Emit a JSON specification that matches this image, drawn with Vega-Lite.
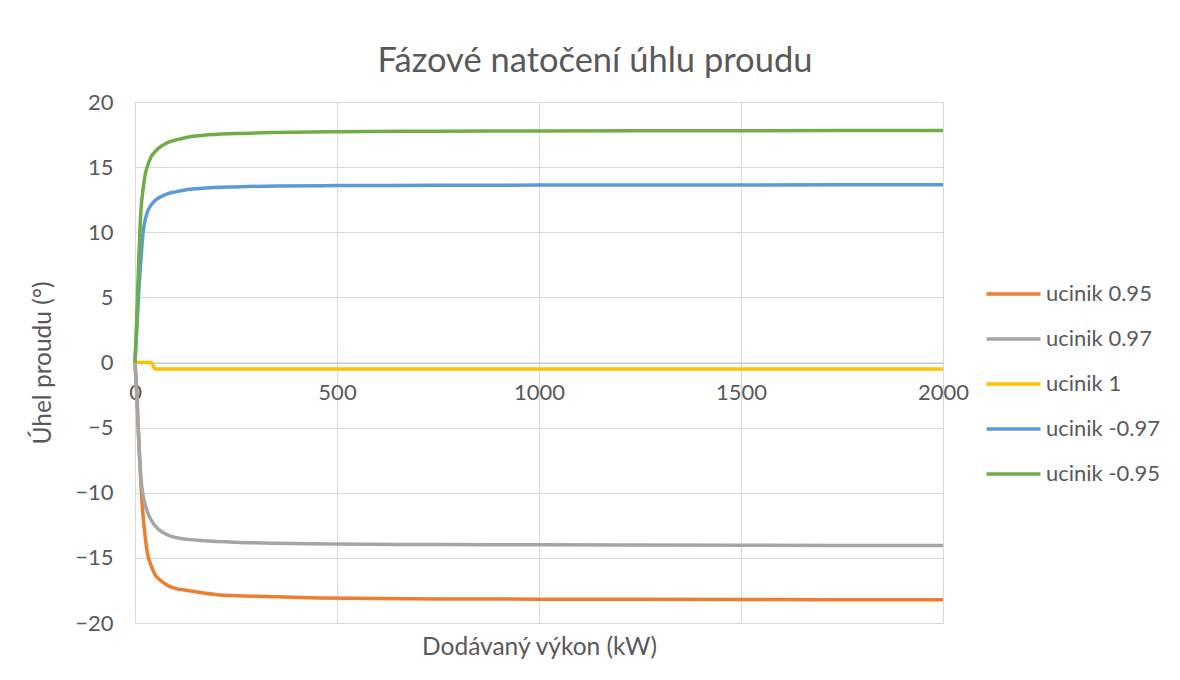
{
  "$schema": "https://vega.github.io/schema/vega-lite/v6.json",
  "width": 808,
  "height": 521,
  "autosize": {"type": "none"},
  "padding": {"left": 135, "top": 102, "right": 237, "bottom": 57},
  "background": "white",
  "config": {
    "font": "Lato",
    "view": {"stroke": null},
    "axis": {"labelFont": "Lato", "titleFont": "Lato", "labelColor": "#595959", "titleColor": "#595959", "titleFontWeight": "normal", "gridColor": "#D9D9D9", "gridWidth": 1},
    "legend": {"labelFont": "Lato", "labelColor": "#595959"}
  },
  "title": {"text": "Fázové natočení úhlu proudu", "font": "Lato", "fontSize": 34.5, "fontWeight": "normal", "color": "#595959", "anchor": "middle", "dx": 56, "offset": 12},
  "data": {"values": [
    {"series": "ucinik 0.95", "P": 0, "angle": 0},
    {"series": "ucinik 0.95", "P": 5, "angle": -2.5},
    {"series": "ucinik 0.95", "P": 10, "angle": -6.5},
    {"series": "ucinik 0.95", "P": 15, "angle": -9.5},
    {"series": "ucinik 0.95", "P": 20, "angle": -11.8},
    {"series": "ucinik 0.95", "P": 25, "angle": -13.3},
    {"series": "ucinik 0.95", "P": 30, "angle": -14.5},
    {"series": "ucinik 0.95", "P": 40, "angle": -15.6},
    {"series": "ucinik 0.95", "P": 50, "angle": -16.3},
    {"series": "ucinik 0.95", "P": 60, "angle": -16.65},
    {"series": "ucinik 0.95", "P": 75, "angle": -17.0},
    {"series": "ucinik 0.95", "P": 90, "angle": -17.25},
    {"series": "ucinik 0.95", "P": 110, "angle": -17.42},
    {"series": "ucinik 0.95", "P": 130, "angle": -17.5},
    {"series": "ucinik 0.95", "P": 170, "angle": -17.7},
    {"series": "ucinik 0.95", "P": 210, "angle": -17.85},
    {"series": "ucinik 0.95", "P": 300, "angle": -17.95},
    {"series": "ucinik 0.95", "P": 460, "angle": -18.08},
    {"series": "ucinik 0.95", "P": 750, "angle": -18.15},
    {"series": "ucinik 0.95", "P": 1000, "angle": -18.17},
    {"series": "ucinik 0.95", "P": 1500, "angle": -18.2},
    {"series": "ucinik 0.95", "P": 2000, "angle": -18.22},
    {"series": "ucinik 0.97", "P": 0, "angle": 0},
    {"series": "ucinik 0.97", "P": 5, "angle": -3.0},
    {"series": "ucinik 0.97", "P": 10, "angle": -6.5},
    {"series": "ucinik 0.97", "P": 15, "angle": -9.0},
    {"series": "ucinik 0.97", "P": 20, "angle": -10.2},
    {"series": "ucinik 0.97", "P": 25, "angle": -10.9},
    {"series": "ucinik 0.97", "P": 30, "angle": -11.4},
    {"series": "ucinik 0.97", "P": 40, "angle": -12.1},
    {"series": "ucinik 0.97", "P": 50, "angle": -12.55},
    {"series": "ucinik 0.97", "P": 60, "angle": -12.85},
    {"series": "ucinik 0.97", "P": 75, "angle": -13.15},
    {"series": "ucinik 0.97", "P": 90, "angle": -13.35},
    {"series": "ucinik 0.97", "P": 110, "angle": -13.5},
    {"series": "ucinik 0.97", "P": 130, "angle": -13.58},
    {"series": "ucinik 0.97", "P": 170, "angle": -13.68},
    {"series": "ucinik 0.97", "P": 250, "angle": -13.8},
    {"series": "ucinik 0.97", "P": 350, "angle": -13.88},
    {"series": "ucinik 0.97", "P": 500, "angle": -13.94},
    {"series": "ucinik 0.97", "P": 750, "angle": -13.98},
    {"series": "ucinik 0.97", "P": 1000, "angle": -14.0},
    {"series": "ucinik 0.97", "P": 1500, "angle": -14.03},
    {"series": "ucinik 0.97", "P": 2000, "angle": -14.05},
    {"series": "ucinik 1", "P": 0, "angle": 0},
    {"series": "ucinik 1", "P": 10, "angle": 0},
    {"series": "ucinik 1", "P": 20, "angle": 0},
    {"series": "ucinik 1", "P": 30, "angle": 0},
    {"series": "ucinik 1", "P": 40, "angle": 0},
    {"series": "ucinik 1", "P": 50, "angle": -0.5},
    {"series": "ucinik 1", "P": 100, "angle": -0.5},
    {"series": "ucinik 1", "P": 500, "angle": -0.5},
    {"series": "ucinik 1", "P": 1000, "angle": -0.5},
    {"series": "ucinik 1", "P": 1500, "angle": -0.5},
    {"series": "ucinik 1", "P": 2000, "angle": -0.5},
    {"series": "ucinik -0.97", "P": 0, "angle": 0},
    {"series": "ucinik -0.97", "P": 5, "angle": 2.8},
    {"series": "ucinik -0.97", "P": 10, "angle": 5.8},
    {"series": "ucinik -0.97", "P": 15, "angle": 8.0},
    {"series": "ucinik -0.97", "P": 20, "angle": 10.0},
    {"series": "ucinik -0.97", "P": 25, "angle": 10.9},
    {"series": "ucinik -0.97", "P": 30, "angle": 11.5},
    {"series": "ucinik -0.97", "P": 40, "angle": 12.1},
    {"series": "ucinik -0.97", "P": 50, "angle": 12.45},
    {"series": "ucinik -0.97", "P": 65, "angle": 12.75},
    {"series": "ucinik -0.97", "P": 80, "angle": 12.95},
    {"series": "ucinik -0.97", "P": 100, "angle": 13.1},
    {"series": "ucinik -0.97", "P": 130, "angle": 13.28},
    {"series": "ucinik -0.97", "P": 170, "angle": 13.38},
    {"series": "ucinik -0.97", "P": 250, "angle": 13.48},
    {"series": "ucinik -0.97", "P": 350, "angle": 13.55},
    {"series": "ucinik -0.97", "P": 500, "angle": 13.58},
    {"series": "ucinik -0.97", "P": 750, "angle": 13.6},
    {"series": "ucinik -0.97", "P": 1000, "angle": 13.62},
    {"series": "ucinik -0.97", "P": 1500, "angle": 13.63},
    {"series": "ucinik -0.97", "P": 2000, "angle": 13.65},
    {"series": "ucinik -0.95", "P": 0, "angle": 0},
    {"series": "ucinik -0.95", "P": 5, "angle": 4.0},
    {"series": "ucinik -0.95", "P": 10, "angle": 8.5},
    {"series": "ucinik -0.95", "P": 15, "angle": 11.8},
    {"series": "ucinik -0.95", "P": 20, "angle": 13.3},
    {"series": "ucinik -0.95", "P": 25, "angle": 14.4},
    {"series": "ucinik -0.95", "P": 30, "angle": 15.0},
    {"series": "ucinik -0.95", "P": 40, "angle": 15.8},
    {"series": "ucinik -0.95", "P": 50, "angle": 16.2},
    {"series": "ucinik -0.95", "P": 60, "angle": 16.5},
    {"series": "ucinik -0.95", "P": 75, "angle": 16.8},
    {"series": "ucinik -0.95", "P": 90, "angle": 17.0},
    {"series": "ucinik -0.95", "P": 110, "angle": 17.15},
    {"series": "ucinik -0.95", "P": 130, "angle": 17.3},
    {"series": "ucinik -0.95", "P": 170, "angle": 17.45},
    {"series": "ucinik -0.95", "P": 250, "angle": 17.58},
    {"series": "ucinik -0.95", "P": 350, "angle": 17.66},
    {"series": "ucinik -0.95", "P": 500, "angle": 17.72},
    {"series": "ucinik -0.95", "P": 750, "angle": 17.76},
    {"series": "ucinik -0.95", "P": 1000, "angle": 17.78},
    {"series": "ucinik -0.95", "P": 1500, "angle": 17.8},
    {"series": "ucinik -0.95", "P": 2000, "angle": 17.82}
  ]},
  "mark": {"type": "line", "strokeWidth": 3.5, "interpolate": "monotone"},
  "encoding": {
    "x": {
      "field": "P", "type": "quantitative",
      "scale": {"domain": [0, 2000], "nice": false, "zero": false},
      "axis": {
        "title": "Dodávaný výkon (kW)", "titleFontSize": 24.5, "titleY": 284.5, "titleBaseline": "middle",
        "values": [0, 500, 1000, 1500, 2000], "format": "d",
        "offset": -260.5, "ticks": false, "domainColor": "#BFBFBF", "domainWidth": 1.2,
        "labelFontSize": 22, "labelPadding": 20, "labelFlush": false, "labelOverlap": false
      }
    },
    "y": {
      "field": "angle", "type": "quantitative",
      "scale": {"domain": [-20, 20], "nice": false},
      "axis": {
        "title": "Úhel proudu (°)", "titleFontSize": 24.5, "titleX": -92, "titleBaseline": "middle", "titleAngle": -90,
        "values": [-20, -15, -10, -5, 0, 5, 10, 15, 20], "format": "d",
        "domain": false, "ticks": false,
        "labelFontSize": 22, "labelPadding": 22
      }
    },
    "color": {
      "field": "series", "type": "nominal",
      "scale": {
        "domain": ["ucinik 0.95", "ucinik 0.97", "ucinik 1", "ucinik -0.97", "ucinik -0.95"],
        "range": ["#ED7D31", "#A5A5A5", "#FFC000", "#5B9BD5", "#70AD47"]
      },
      "legend": {
        "title": null, "orient": "none", "legendX": 849.5, "legendY": 181, "padding": 0,
        "symbolType": "stroke", "symbolSize": 2916, "symbolStrokeWidth": 3.5,
        "clipHeight": 22, "rowPadding": 23, "labelFontSize": 22, "labelOffset": 3.5
      }
    }
  }
}
